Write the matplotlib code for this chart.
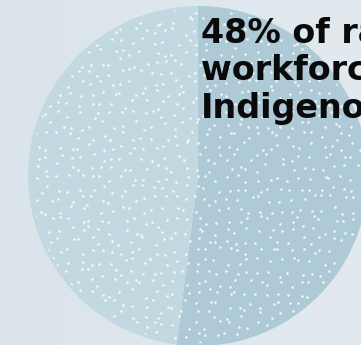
import numpy as np
import matplotlib.pyplot as plt
from matplotlib.colors import LinearSegmentedColormap
from matplotlib.patches import Circle

# workforce split, drawn clockwise from 12 o'clock
labels = ["Non-Indigenous", "Indigenous"]
shares = [52, 48]
slice_colors = ["#aecad6", "#c3d9e2"]
headline = ["48% of rail", "workforce is", "Indigenous"]

W, H = 361, 345
fig = plt.figure(figsize=(W / 100, H / 100), dpi=100)
ax = fig.add_axes([0, 0, 1, 1])

# soft background wash, a touch darker on the left
grad = np.linspace(0, 1, 256).reshape(1, -1)
bg = LinearSegmentedColormap.from_list("bg", ["#dbe4ea", "#e2eaf0"])
ax.imshow(grad, extent=[0, W, 0, H], cmap=bg, aspect="auto", zorder=0)

cx, cy, r = 198, H - 176, 170
wedges, _ = ax.pie(shares, colors=slice_colors, startangle=90, counterclock=False,
                   center=(cx, cy), radius=r, wedgeprops=dict(linewidth=0))
for w in wedges:
    w.set_zorder(1)

# speckle texture: jittered grid so the dots stay evenly spread
rng = np.random.default_rng(7)
step = 10.5
gx, gy = np.meshgrid(np.arange(cx - r, cx + r, step), np.arange(cy - r, cy + r, step))
px = gx.ravel() + rng.uniform(-4.5, 4.5, gx.size)
py = gy.ravel() + rng.uniform(-4.5, 4.5, gy.size)
clip = Circle((cx, cy), r - 3, transform=ax.transData)
dots = ax.scatter(px, py, s=3.5, color="white", alpha=0.85, linewidths=0, zorder=2)
dots.set_clip_path(clip)

# headline, one line per baseline
for i, line in enumerate(headline):
    ax.text(201, H - 43 - 37.5 * i, line, fontsize=24,
            fontfamily="DejaVu Sans", fontweight="bold",
            color="#0a0a0a", va="baseline", ha="left", zorder=3)

ax.set_xlim(0, W)
ax.set_ylim(0, H)
ax.set_aspect("equal")
ax.axis("off")

fig.savefig("out.png", dpi=100)
